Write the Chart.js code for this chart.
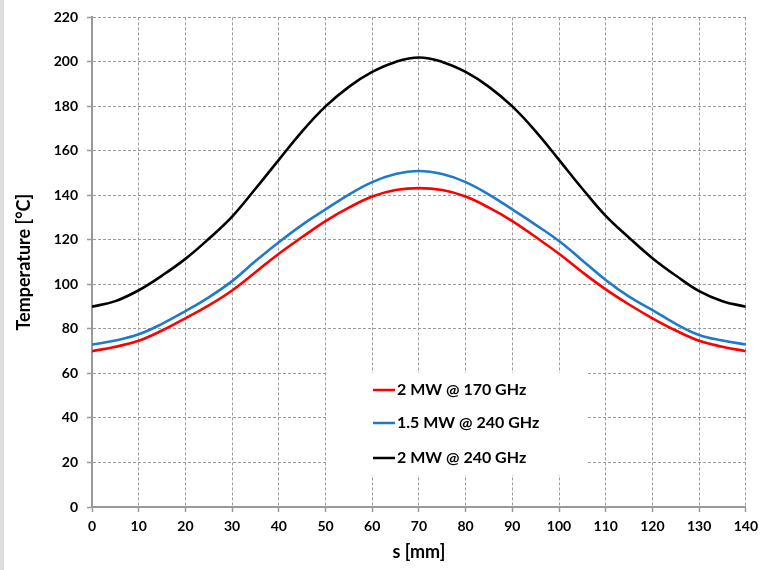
<!DOCTYPE html>
<html>
<head>
<meta charset="utf-8">
<script src="https://cdn.jsdelivr.net/npm/chart.js@4"></script>
<style>
  html, body { margin: 0; padding: 0; background: #fff; }
  #wrap { position: relative; width: 764px; height: 570px; }
</style>
</head>
<body>
<div id="wrap"><canvas id="c" width="764" height="570"></canvas></div>
<script>
// ---- data ----
const positions = [0, 5, 10, 15, 20, 25, 30, 35, 40, 45, 50, 55, 60, 65, 70, 75, 80, 85, 90, 95, 100, 105, 110, 115, 120, 125, 130, 135, 140];
const temp2MW170 = [70, 72, 74.7, 79.3, 84.8, 90.6, 97.3, 105.5, 113.8, 121.3, 128.5, 134.5, 139.5, 142.4, 143.3, 142.4, 139.5, 134.5, 128.5, 121.3, 113.8, 105.5, 97.8, 91, 84.8, 79.3, 74.7, 72, 70];
const temp15MW240 = [73, 74.8, 77.6, 82.3, 88, 94.2, 101.5, 110.5, 119, 126.8, 133.7, 140.4, 146, 149.6, 151, 149.6, 146, 140.4, 133.7, 126.8, 119.5, 110.8, 102, 94.5, 88.5, 82.3, 77.3, 74.8, 73];
const temp2MW240 = [90, 92.5, 97.4, 104, 111.5, 120.5, 130.5, 143, 156, 168.8, 180, 188.8, 195.5, 200, 202, 200, 195.5, 188.8, 180, 168.8, 156, 143, 130.8, 121, 111.8, 104, 97, 92.5, 90];
const seriesLabels = ['2 MW @ 170 GHz', '1.5 MW @ 240 GHz', '2 MW @ 240 GHz'];
const xAxisTitle = 's [mm]';
const yAxisTitle = 'Temperature [°C]';
const xTicks = { min: 0, max: 140, step: 10 };
const yTicks = { min: 0, max: 220, step: 20 };

const FONT = 'Lato, "Open Sans", "Liberation Sans", sans-serif';
const colors = ['#ff0000', '#1f7bc9', '#000000'];

function pts(ys) { return positions.map((x, i) => ({ x: x, y: ys[i] })); }

const edgeStrip = {
  id: 'edgeStrip',
  beforeDraw(chart) {
    const ctx = chart.ctx;
    ctx.save();
    ctx.fillStyle = '#dcdcdc';
    ctx.fillRect(0, 0, 4, chart.height);
    ctx.restore();
  }
};

const boxLegend = {
  id: 'boxLegend',
  beforeDatasetsDraw(chart) {
    const ctx = chart.ctx;
    ctx.save();
    ctx.fillStyle = '#ffffff';
    ctx.fillRect(327, 373, 259, 102);
    const rows = [390, 423, 458];
    chart.data.datasets.forEach((ds, i) => {
      const y = rows[i];
      ctx.strokeStyle = ds.borderColor;
      ctx.lineWidth = 2.5;
      ctx.beginPath();
      ctx.moveTo(373, y);
      ctx.lineTo(395, y);
      ctx.stroke();
      ctx.fillStyle = '#000';
      ctx.font = 'bold 16px ' + FONT;
      ctx.textBaseline = 'middle';
      ctx.textAlign = 'left';
      ctx.fillText(ds.label, 397, y);
    });
    ctx.restore();
  }
};

const gridColor = '#9c9c9c';

function gridOpts() {
  return {
    color: gridColor,
    lineWidth: 1,
    tickLength: 5,
    tickColor: '#999',
    tickBorderDash: [],
    tickWidth: 1.5
  };
}

new Chart(document.getElementById('c'), {
  type: 'line',
  data: {
    datasets: [
      { label: seriesLabels[0], data: pts(temp2MW170), borderColor: colors[0] },
      { label: seriesLabels[1], data: pts(temp15MW240), borderColor: colors[1] },
      { label: seriesLabels[2], data: pts(temp2MW240), borderColor: colors[2] }
    ]
  },
  options: {
    responsive: false,
    animation: false,
    devicePixelRatio: 1,
    layout: { padding: { left: 0, right: 14, top: 13, bottom: 0 } },
    elements: {
      point: { radius: 0 },
      line: { borderWidth: 2.6, tension: 0.4, fill: false }
    },
    plugins: {
      legend: { display: false },
      tooltip: { enabled: false }
    },
    scales: {
      x: {
        type: 'linear',
        min: xTicks.min, max: xTicks.max,
        ticks: {
          stepSize: xTicks.step,
          color: '#000',
          font: { family: FONT, size: 14, weight: 'bold' },
          padding: 6,
          maxRotation: 0
        },
        grid: gridOpts(),
        border: { display: true, color: '#999', width: 2, dash: [3, 2] },
        title: {
          display: true,
          text: xAxisTitle,
          color: '#000',
          font: { family: FONT, size: 18, weight: 'bold' },
          padding: { top: 0, bottom: 7 }
        },
        afterFit(scale) { scale.height = 63; }
      },
      y: {
        type: 'linear',
        min: yTicks.min, max: yTicks.max,
        ticks: {
          stepSize: yTicks.step,
          color: '#000',
          font: { family: FONT, size: 14, weight: 'bold' },
          padding: 9
        },
        grid: gridOpts(),
        border: { display: true, color: '#999', width: 2, dash: [3, 2] },
        title: {
          display: true,
          text: yAxisTitle,
          color: '#000',
          font: { family: FONT, size: 18, weight: 'bold' },
          padding: { top: 13, bottom: 0 }
        },
        afterFit(scale) { scale.width = 92; }
      }
    }
  },
  plugins: [edgeStrip, boxLegend]
});
</script>
</body>
</html>
